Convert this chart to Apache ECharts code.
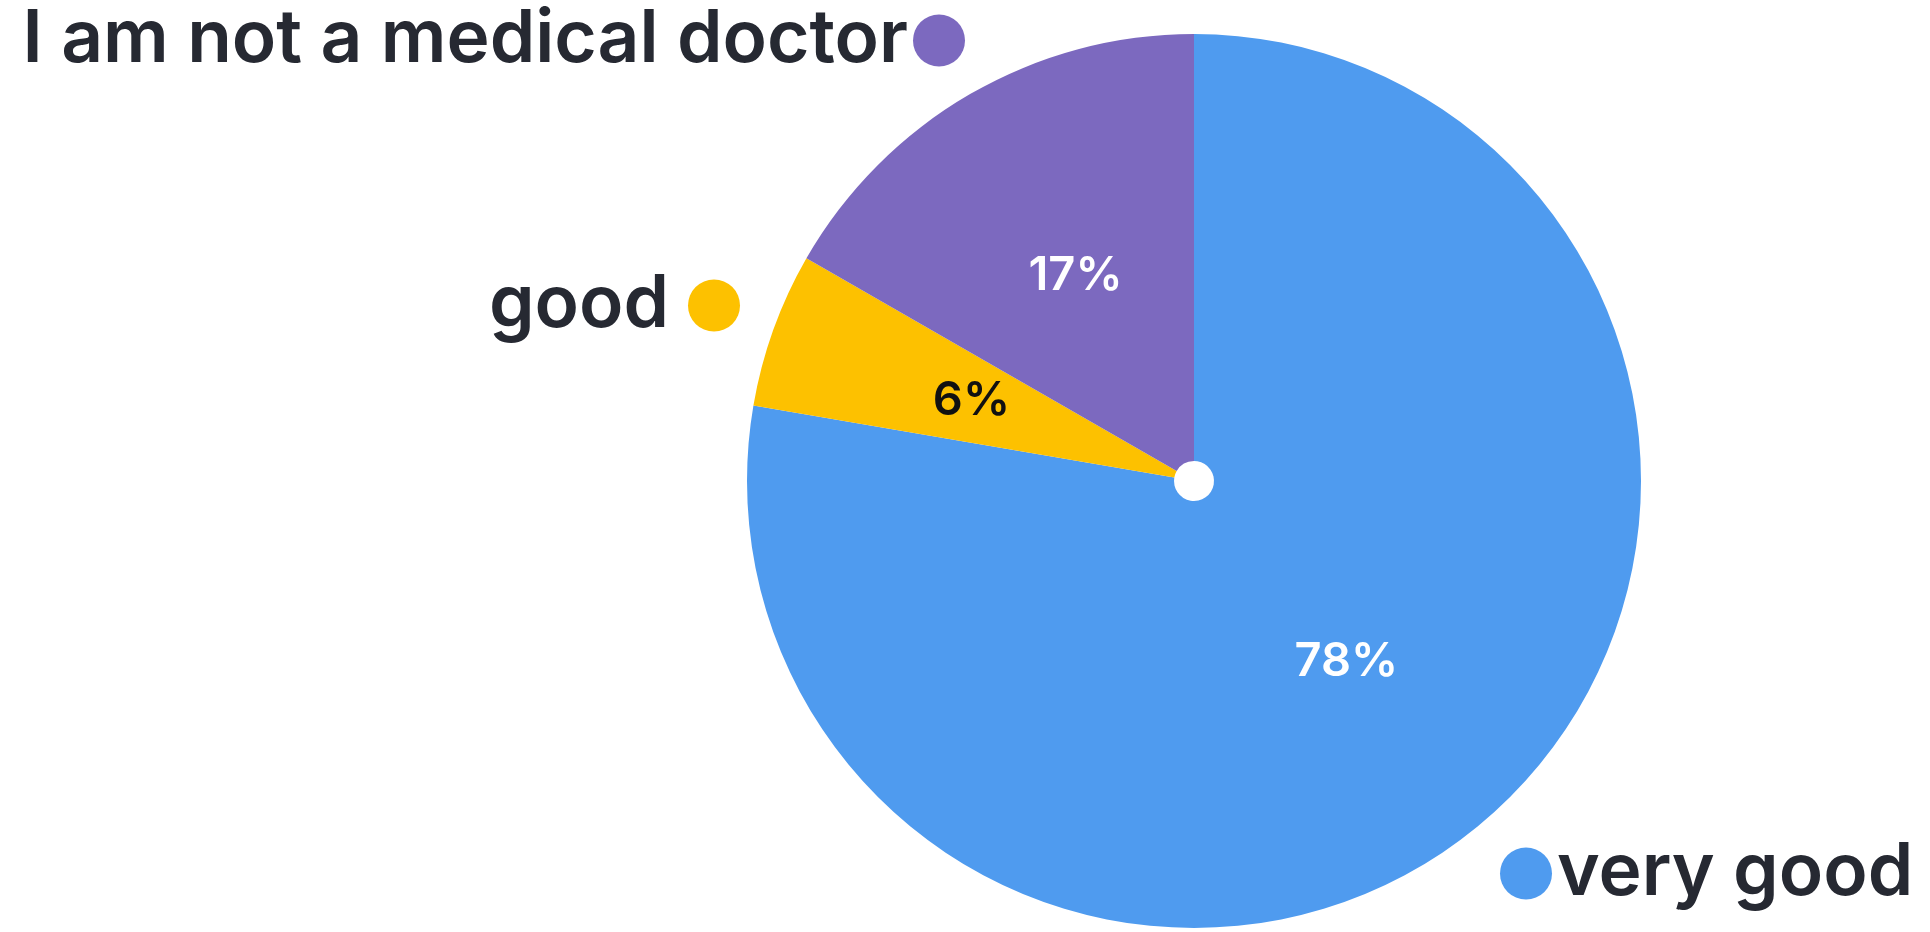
<!DOCTYPE html>
<html>
<head>
<meta charset="utf-8">
<script src="https://cdn.jsdelivr.net/npm/echarts@6/dist/echarts.min.js"></script>
<style>
html,body{margin:0;padding:0;background:#fff;}
#main{width:1930px;height:932px;}
</style>
</head>
<body>
<div id="main"></div>
<script>
const categories = ['very good', 'good', 'I am not a medical doctor'];
const values = [77.7, 5.6, 16.7];
const colors = ['#4F9BEF', '#FDC100', '#7C69BF'];
const labelColors = ['#ffffff', '#111111', '#ffffff'];

const FONT = 'Inter';
const textColor = '#262932';

const chart = echarts.init(document.getElementById('main'));

const data = categories.map((c, i) => ({
  name: c,
  value: values[i],
  itemStyle: { color: colors[i] },
  label: { color: labelColors[i] }
}));

function legendFor(name, pos, align, extraText) {
  return Object.assign({
    data: [name],
    orient: 'horizontal',
    icon: 'circle',
    itemWidth: 52,
    itemHeight: 52,
    padding: 0,
    align: align,
    selectedMode: false,
    textStyle: Object.assign({
      fontFamily: FONT,
      fontSize: 73,
      fontWeight: 600,
      lineHeight: 52,
      color: textColor
    }, extraText || {})
  }, pos);
}

chart.setOption({
  backgroundColor: '#ffffff',
  animation: false,
  legend: [
    legendFor(categories[2], { right: 965, top: 4 }, 'right'),
    legendFor(categories[1], { right: 1190, top: 269 }, 'right', { padding: [0, 14, 0, 0] }),
    legendFor(categories[0], { left: 1500, top: 837 }, 'left')
  ],
  series: [{
    type: 'pie',
    center: [1194, 481],
    radius: [20, 447],
    startAngle: 90,
    clockwise: true,
    avoidLabelOverlap: false,
    data: data,
    label: {
      show: true,
      position: 'inside',
      fontFamily: FONT,
      fontSize: 47,
      fontWeight: 600,
      formatter: p => Math.round(p.percent) + '%'
    },
    labelLine: { show: false },
    emphasis: { disabled: true }
  }]
});
</script>
</body>
</html>
